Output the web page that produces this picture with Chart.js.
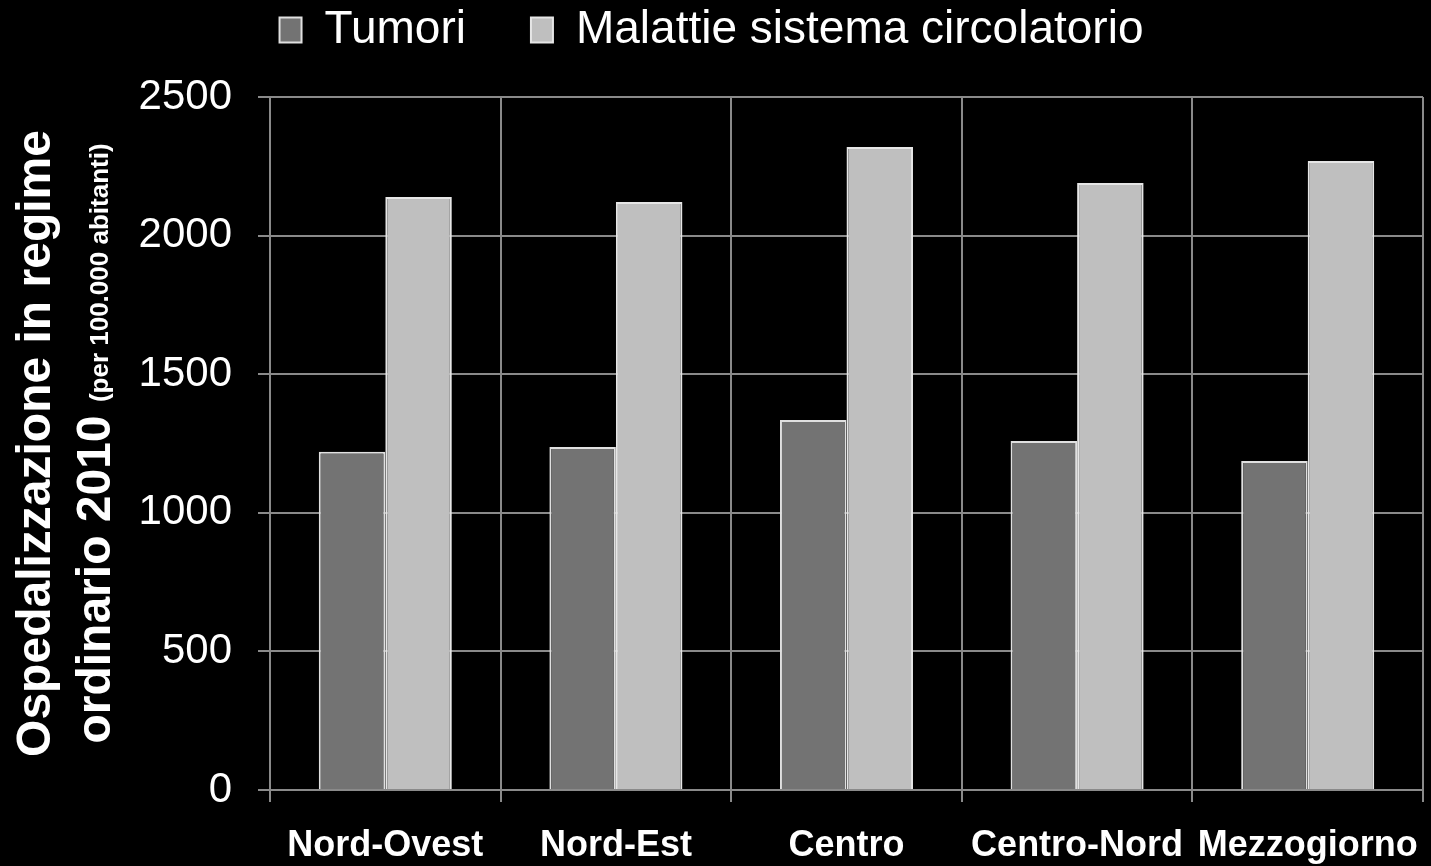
<!DOCTYPE html>
<html>
<head>
<meta charset="utf-8">
<script src="https://cdn.jsdelivr.net/npm/chart.js@4.4.0/dist/chart.umd.min.js"></script>
<style>
  body { margin: 0; background: #000; }
  #wrap { width: 1431px; height: 866px; position: relative; }
</style>
</head>
<body>
<div id="wrap"><canvas id="barChart"></canvas></div>
<script>
var categories = ["Nord-Ovest", "Nord-Est", "Centro", "Centro-Nord", "Mezzogiorno"];
var tumori = [1220, 1237, 1335, 1259, 1187];
var circolatorio = [2139, 2121, 2320, 2190, 2269];
var seriesNames = ["Tumori", "Malattie sistema circolatorio"];

var FONT = "'Liberation Sans', Arial, sans-serif";
var gridColor = "#8a8a8a";

// y axis title, two lines, second one with a smaller note
var yTitle = {
  id: 'yTitle',
  afterDraw: function(chart) {
    var ctx = chart.ctx;
    var area = chart.chartArea;
    var cy = (area.top + area.bottom) / 2;
    ctx.save();
    ctx.fillStyle = "#fff";
    ctx.textBaseline = "alphabetic";
    ctx.textAlign = "left";

    ctx.translate(50, cy);
    ctx.rotate(-Math.PI / 2);
    ctx.font = "bold 48px " + FONT;
    var line1 = "Ospedalizzazione in regime";
    ctx.fillText(line1, -ctx.measureText(line1).width / 2, 0);
    ctx.restore();

    ctx.save();
    ctx.fillStyle = "#fff";
    ctx.textBaseline = "alphabetic";
    ctx.textAlign = "left";
    ctx.translate(110, cy);
    ctx.rotate(-Math.PI / 2);
    var big = "ordinario 2010 ";
    var small = "(per 100.000 abitanti)";
    ctx.font = "bold 48px " + FONT;
    var wBig = ctx.measureText(big).width;
    ctx.font = "bold 26px " + FONT;
    var wSmall = ctx.measureText(small).width;
    var x0 = -(wBig + wSmall) / 2;
    ctx.font = "bold 48px " + FONT;
    ctx.fillText(big, x0, 0);
    ctx.font = "bold 26px " + FONT;
    ctx.fillText(small, x0 + wBig, -2);
    ctx.restore();
  }
};

// lift the legend row closer to the top edge
var legendLift = {
  id: 'legendLift',
  afterLayout: function(chart) {
    chart.legend.top -= 34;
    chart.legend.bottom -= 34;
  }
};

var barChart = new Chart(document.getElementById("barChart"), {
  type: 'bar',
  data: {
    labels: categories,
    datasets: [
      {
        label: seriesNames[0],
        data: tumori,
        backgroundColor: "#737373",
        borderColor: "#e0e0e0",
        borderWidth: 2
      },
      {
        label: seriesNames[1],
        data: circolatorio,
        backgroundColor: "#bfbfbf",
        borderColor: "#e6e6e6",
        borderWidth: 2
      }
    ]
  },
  options: {
    responsive: true,
    maintainAspectRatio: false,
    animation: false,
    layout: { padding: { top: -24, right: 8, left: 0, bottom: 0 } },
    datasets: { bar: { categoryPercentage: 0.577, barPercentage: 1 } },
    plugins: {
      tooltip: { enabled: false },
      legend: {
        position: 'top',
        labels: {
          color: "#fff",
          font: { family: FONT, size: 46 },
          boxWidth: 22,
          boxHeight: 25,
          padding: 65
        }
      }
    },
    scales: {
      x: {
        afterFit: function(scale) {
          scale.height = 76;
          scale.paddingLeft = 0;
          scale.paddingRight = 0;
        },
        grid: { color: gridColor, lineWidth: 2, tickLength: 12, tickColor: gridColor },
        border: { color: gridColor, width: 2 },
        ticks: {
          color: "#fff",
          autoSkip: false,
          maxRotation: 0,
          padding: 22,
          font: { family: FONT, size: 36, weight: 'bold' }
        }
      },
      y: {
        min: 0,
        max: 2500,
        afterFit: function(scale) { scale.width = 270; },
        grid: { color: gridColor, lineWidth: 2, tickLength: 12, tickColor: gridColor },
        border: { color: gridColor, width: 2 },
        ticks: {
          stepSize: 500,
          color: "#fff",
          padding: 26,
          font: { family: FONT, size: 42 },
          callback: function(v) { return String(v); }
        }
      }
    }
  },
  plugins: [yTitle, legendLift]
});
</script>
</body>
</html>
